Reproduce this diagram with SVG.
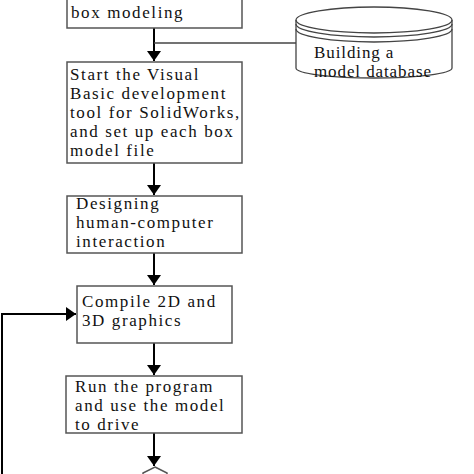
<svg xmlns="http://www.w3.org/2000/svg" width="474" height="474" viewBox="0 0 474 474">
<defs>
<marker id="ah" viewBox="0 0 10 14" refX="10" refY="7" markerWidth="10" markerHeight="14" markerUnits="userSpaceOnUse" orient="auto">
<path d="M0,0 L10,7 L0,14 Z" fill="#000"/>
</marker>
<style>
.box{fill:#fff;stroke:#555;stroke-width:1.5}
.t{font-family:"Liberation Serif","Times New Roman",serif;font-size:17px;letter-spacing:1.6px;fill:#111}
.d{letter-spacing:0.9px}
.c{fill:none;stroke:#000;stroke-width:2}
.thin{fill:none;stroke:#444;stroke-width:1.3}
</style>
</defs>
<rect width="474" height="474" fill="#fff"/>
<g id="connectors">
<path class="c" d="M154,28 V61" marker-end="url(#ah)"/>
<path class="thin" d="M154,43 H296"/>
<path class="c" d="M154,163 V195" marker-end="url(#ah)"/>
<path class="c" d="M154,253 V285" marker-end="url(#ah)"/>
<path class="c" d="M154,343 V375" marker-end="url(#ah)"/>
<path class="c" d="M154,433 V466" marker-end="url(#ah)"/>
<path class="c" d="M2,474 V314 H76" marker-end="url(#ah)"/>
</g>
<g id="node-box-modeling">
<rect class="box" x="67" y="-10" width="175" height="38"/>
<text class="t" x="71" y="18">box modeling</text>
</g>
<g id="node-database">
<path class="thin" d="M296,20 V68 A78,10 0 0 0 452,68 V20"/>
<ellipse class="thin" cx="374" cy="20" rx="78" ry="13" fill="#fff"/>
<path class="thin" d="M296,24 A78,13 0 0 0 452,24"/>
<path class="thin" d="M296,29 A78,13 0 0 0 452,29"/>
<text class="t d" x="314" y="58">Building a</text>
<text class="t d" x="314" y="77">model database</text>
</g>
<g id="node-start-vb">
<rect class="box" x="67" y="62" width="175" height="101"/>
<text class="t" x="70" y="80">Start the Visual</text>
<text class="t" x="70" y="99">Basic development</text>
<text class="t" x="70" y="118">tool for SolidWorks,</text>
<text class="t" x="70" y="137">and set up each box</text>
<text class="t" x="70" y="156">model file</text>
</g>
<g id="node-hci">
<rect class="box" x="67" y="196" width="175" height="57"/>
<text class="t" x="76" y="209">Designing</text>
<text class="t" x="76" y="228">human-computer</text>
<text class="t" x="76" y="247">interaction</text>
</g>
<g id="node-compile">
<rect class="box" x="77" y="286" width="155" height="57"/>
<text class="t" x="82" y="307">Compile 2D and</text>
<text class="t" x="82" y="326">3D graphics</text>
</g>
<g id="node-run">
<rect class="box" x="66" y="376" width="176" height="57"/>
<text class="t" x="75" y="392">Run the program</text>
<text class="t" x="75" y="411">and use the model</text>
<text class="t" x="75" y="430">to drive</text>
</g>
<g id="node-end">
<polygon class="box" points="155,467 167,473 167,490 143,490 143,473"/>
</g>
</svg>
